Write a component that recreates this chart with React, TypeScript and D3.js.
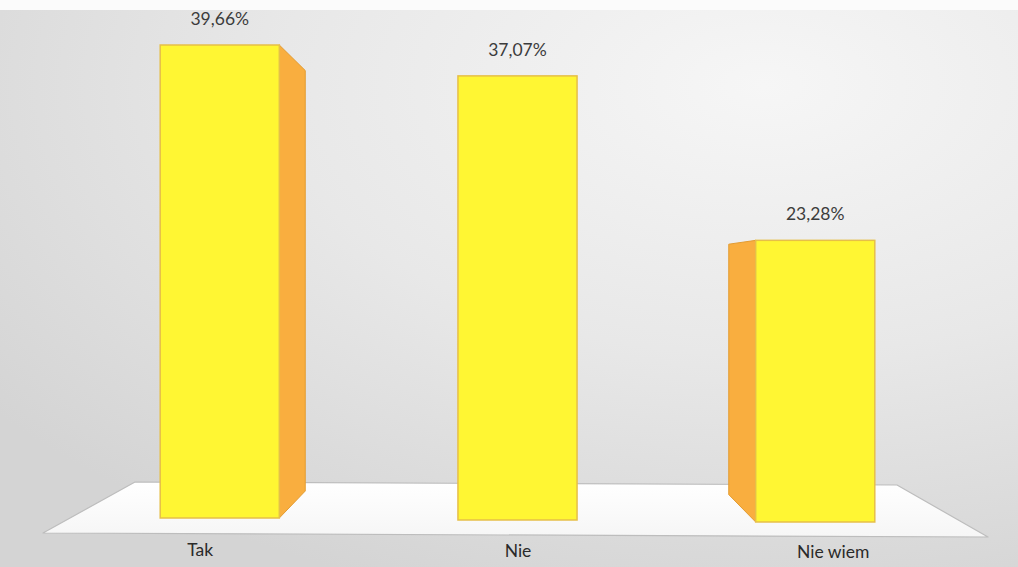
import React from "react";
import * as d3 from "d3";

const categories = ["Tak", "Nie", "Nie wiem"];
const values = [39.66, 37.07, 23.28];
const valueLabels = ["39,66%", "37,07%", "23,28%"];

const W = 1018;
const H = 567;

export default function App() {
  const x = d3.scaleBand<string>().domain(categories).range([56, 979]).paddingInner(0.6).paddingOuter(0.35);
  const y = d3.scaleLinear().domain([0, 39.66]).range([518, 45]);
  const vp = { x: 513, y: 275 };
  const s = 0.889;
  const back = (px: number, py: number) => [vp.x + s * (px - vp.x), vp.y + s * (py - vp.y)];

  const floorFront = y(0) + 15;
  const floorBack = y(0) - 36;
  const labelOffsets = [-19.5, 0.5, 18];

  return (
    <div style={{ position: "absolute", left: 0, top: 0 }}>
      <svg width={W} height={H} style={{ display: "block" }}>
        <defs>
          <radialGradient id="bg" cx="0.75" cy="0.15" r="0.95">
            <stop offset="0" stopColor="#f6f6f6" />
            <stop offset="0.5" stopColor="#e8e8e8" />
            <stop offset="1" stopColor="#d4d4d4" />
          </radialGradient>
          <linearGradient id="floor" x1="0" y1="0" x2="0" y2="1">
            <stop offset="0" stopColor="#ffffff" />
            <stop offset="1" stopColor="#f6f6f6" />
          </linearGradient>
        </defs>
        <rect x={0} y={0} width={W} height={H} fill="url(#bg)" />
        <rect x={0} y={0} width={W} height={10} fill="#fbfbfb" />
        <polygon
          points={[
            [135, floorBack],
            [897, floorBack + 3],
            [988, floorFront + 4],
            [43, floorFront],
          ].map((p) => p.join(",")).join(" ")}
          fill="url(#floor)"
          stroke="#bdbdbd"
          strokeWidth={1.2}
          strokeLinejoin="round"
        />
        {categories.map((c, i) => {
          const x0 = x(c)!;
          const x1 = x0 + x.bandwidth();
          const yt = y(values[i]);
          const yb = y(0) + 2 * i;
          let side: number[][] | null = null;
          if (x1 < vp.x) {
            const [bx, bty] = back(x1, yt);
            const [, bby] = back(x1, yb);
            side = [[x1, yt], [bx, bty], [bx, bby], [x1, yb]];
          } else if (x0 > vp.x) {
            const [bx, bty] = back(x0, yt);
            const [, bby] = back(x0, yb);
            side = [[x0, yt], [bx, bty], [bx, bby], [x0, yb]];
          }
          return (
            <g key={c}>
              {side && (
                <polygon
                  points={side.map((p) => p.join(",")).join(" ")}
                  fill="#f9ae3f"
                  stroke="#e39c32"
                  strokeWidth={1}
                />
              )}
              <rect x={x0} y={yt} width={x1 - x0} height={yb - yt} fill="#fff633" stroke="#e6bf48" strokeWidth={1.5} />
              <text
                x={(x0 + x1) / 2}
                y={yt - 20}
                textAnchor="middle"
                fontFamily="Lato, 'Noto Sans', sans-serif"
                fontSize={17.5}
                fill="#3c3c3c"
              >
                {valueLabels[i]}
              </text>
              <text
                x={(x0 + x1) / 2 + labelOffsets[i]}
                y={556 + i}
                textAnchor="middle"
                fontFamily="Lato, 'Noto Sans', sans-serif"
                fontSize={17.5}
                fill="#2a2a2a"
              >
                {c}
              </text>
            </g>
          );
        })}
      </svg>
    </div>
  );
}
